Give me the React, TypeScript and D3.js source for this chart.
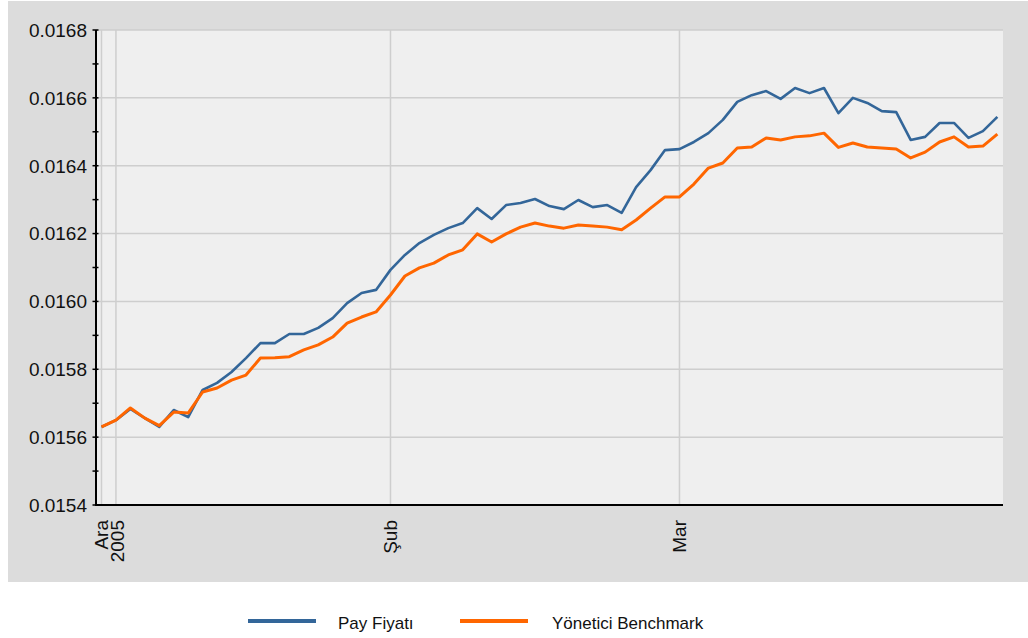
import React, { useEffect, useRef } from 'react'
import * as d3 from 'd3'

// trading day index -> values
const payFiyati = [
  0.015630, 0.015650, 0.015683, 0.015656, 0.015630, 0.015680, 0.015659, 0.015739,
  0.015760, 0.015792, 0.015833, 0.015877, 0.015877, 0.015904, 0.015904, 0.015922,
  0.015951, 0.015995, 0.016025, 0.016034, 0.016093, 0.016137, 0.016172, 0.016196,
  0.016216, 0.016231, 0.016275, 0.016243, 0.016284, 0.016290, 0.016302, 0.016281,
  0.016272, 0.016299, 0.016278, 0.016284, 0.016261, 0.016337, 0.016387, 0.016446,
  0.016449, 0.016470, 0.016496, 0.016535, 0.016588, 0.016608, 0.016620, 0.016597,
  0.016629, 0.016614, 0.016629, 0.016555, 0.016600, 0.016585, 0.016561, 0.016558,
  0.016476, 0.016485, 0.016526, 0.016526, 0.016482, 0.016502, 0.016544,
]

const benchmark = [
  0.015630, 0.015650, 0.015686, 0.015656, 0.015634, 0.015674, 0.015671, 0.015733,
  0.015745, 0.015768, 0.015783, 0.015833, 0.015834, 0.015837, 0.015857, 0.015872,
  0.015895, 0.015936, 0.015954, 0.015969, 0.016019, 0.016075, 0.016099, 0.016113,
  0.016137, 0.016152, 0.016199, 0.016175, 0.016199, 0.016219, 0.016231, 0.016222,
  0.016216, 0.016225, 0.016222, 0.016219, 0.016211, 0.016240, 0.016275, 0.016308,
  0.016308, 0.016346, 0.016393, 0.016408, 0.016452, 0.016455, 0.016482, 0.016476,
  0.016485, 0.016488, 0.016496, 0.016454, 0.016467, 0.016455, 0.016452, 0.016449,
  0.016423, 0.016440, 0.016470, 0.016485, 0.016455, 0.016458, 0.016493,
]

const seriesNames = ['Pay Fiyatı', 'Yönetici Benchmark']
const seriesColors = ['#336699', '#ff6600']

// month ticks (index of first trading day)
const monthTicks = [
  { i: 0, lines: ['Ara', '2005'] },
  { i: 20, lines: ['Şub'] },
  { i: 40, lines: ['Mar'] },
]
const extraGridIdx = [1]

const yTicks = [0.0154, 0.0156, 0.0158, 0.016, 0.0162, 0.0164, 0.0166, 0.0168]

const W = 1028
const H = 638
const FONT = '"Liberation Sans", Arial, sans-serif'

export default function App() {
  const ref = useRef<SVGSVGElement>(null)

  useEffect(() => {
    const svg = d3.select(ref.current)
    svg.selectAll('*').remove()

    const left = 96, right = 1003, top = 30, bottom = 505

    const x = d3.scaleLinear().domain([-0.38, 62.39]).range([left, right])
    const y = d3.scaleLinear().domain([0.0154, 0.0168]).range([bottom, top])

    // outer panel
    svg.append('rect').attr('x', 8).attr('y', 1).attr('width', W - 8).attr('height', 581).attr('fill', '#dcdcdc')
    svg.append('rect').attr('x', left).attr('y', top).attr('width', right - left).attr('height', bottom - top).attr('fill', '#efefef')

    const grid = svg.append('g')
    grid.selectAll('.hg').data(yTicks).enter().append('line')
      .attr('x1', left).attr('x2', right)
      .attr('y1', d => y(d)).attr('y2', d => y(d))
      .attr('stroke', '#cecece').attr('stroke-width', 1.5)
    const vIdx = monthTicks.map(t => t.i).concat(extraGridIdx)
    grid.selectAll('.vg').data(vIdx).enter().append('line')
      .attr('x1', d => x(d)).attr('x2', d => x(d))
      .attr('y1', top).attr('y2', bottom)
      .attr('stroke', '#cecece').attr('stroke-width', 1.5)

    // lines
    const line = d3.line<number>().x((d, i) => x(i)).y(d => y(d))
    const series = [payFiyati, benchmark]
    series.forEach((s, k) => {
      svg.append('path').attr('d', line(s))
        .attr('fill', 'none').attr('stroke', seriesColors[k])
        .attr('stroke-width', k === 0 ? 2.6 : 3).attr('stroke-linejoin', 'round')
    })

    // axes
    svg.append('line').attr('x1', left).attr('x2', left).attr('y1', top).attr('y2', bottom)
      .attr('stroke', '#000').attr('stroke-width', 2)
    svg.append('line').attr('x1', left - 1).attr('x2', right).attr('y1', bottom).attr('y2', bottom)
      .attr('stroke', '#000').attr('stroke-width', 2)

    const minor = d3.range(0, 15).map(i => 0.0154 + i * 0.0001)
    svg.selectAll('.tk').data(minor).enter().append('line')
      .attr('x1', left - 3.5).attr('x2', left + 2.5)
      .attr('y1', d => y(d)).attr('y2', d => y(d))
      .attr('stroke', '#000').attr('stroke-width', 1.5)

    svg.selectAll('.yl').data(yTicks).enter().append('text')
      .attr('x', 87).attr('y', d => y(d)).attr('dy', '0.36em')
      .attr('text-anchor', 'end')
      .style('font-family', FONT).style('font-size', '19px').style('fill', '#111')
      .text(d => d.toFixed(4))

    const xl = svg.selectAll('.xl').data(monthTicks).enter().append('text')
      .attr('transform', d => `translate(${x(d.i)},520) rotate(-90)`)
      .attr('text-anchor', 'end')
      .style('font-family', FONT).style('font-size', '19px').style('fill', '#111')
    xl.each(function (d) {
      const t = d3.select(this)
      d.lines.forEach((ln, j) => {
        t.append('tspan').attr('x', 0).attr('dy', j === 0 ? '0.36em' : '0.85em').text(ln)
      })
    })

    // legend
    const lg = svg.append('g')
    const lx = [248, 460]
    const tx = [338, 552]
    seriesNames.forEach((n, k) => {
      lg.append('line').attr('x1', lx[k]).attr('x2', lx[k] + 68).attr('y1', 621).attr('y2', 621)
        .attr('stroke', seriesColors[k]).attr('stroke-width', 4)
      lg.append('text').attr('x', tx[k]).attr('y', 629)
        .style('font-family', FONT).style('font-size', '17px').style('fill', '#111')
        .text(n)
    })
  }, [])

  return (
    <svg ref={ref} width={W} height={H}
      style={{ position: 'absolute', left: 0, top: 0, background: '#fff' }} />
  )
}
